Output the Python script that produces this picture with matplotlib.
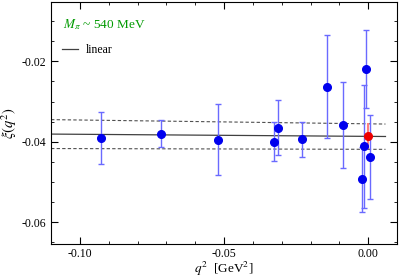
import matplotlib
matplotlib.use("Agg")
import matplotlib.pyplot as plt
from matplotlib.ticker import MultipleLocator

plt.rcParams['font.family'] = ['Liberation Serif', 'DejaVu Serif']
plt.rcParams['mathtext.fontset'] = 'stix'

# =======================
# Daten
# =======================
q2 = [-0.0928, -0.0718, -0.0522, -0.0328, -0.0313, -0.0231,
      -0.0144, -0.0089, -0.0008, -0.0016, -0.0022, 0.0007]
xi = [-0.0390, -0.0380, -0.0395, -0.0400, -0.0365, -0.0394,
      -0.0263, -0.0358, -0.0218, -0.0411, -0.0493, -0.0438]
xi_err = [0.0065, 0.0034, 0.0089, 0.0048, 0.0068, 0.0044,
          0.0128, 0.0107, 0.0097, 0.0153, 0.0081, 0.0105]

# extrapolierter Punkt bei q^2 = 0
q2_0 = [0.0]
xi_0 = [-0.0386]
xi_0_err = [0.0032]

# linearer Fit + Fehlerband
fit_q2 = [-0.11, 0.006]
fit_mid = [-0.0381, -0.0387]
fit_up = [-0.0345, -0.0356]
fit_lo = [-0.0417, -0.0419]

fig = plt.figure(figsize=(3.99, 2.79), dpi=100)
ax = fig.add_axes([0.128, 0.125, 0.867, 0.868])

ax.plot(fit_q2, fit_mid, color='#404040', lw=0.9, label='linear')
ax.plot(fit_q2, fit_up, color='#505050', lw=0.8, ls=(0, (3, 2)))
ax.plot(fit_q2, fit_lo, color='#505050', lw=0.8, ls=(0, (3, 2)))

ax.errorbar(q2, xi, yerr=xi_err, fmt='o', color='#0000ee', ms=5.5,
            ecolor='#6a6aff', elinewidth=1.0, capsize=2.5, capthick=1.0)
ax.errorbar(q2_0, xi_0, yerr=xi_0_err, fmt='o', color='#ee0000', ms=5.5,
            ecolor='#ff8080', elinewidth=1.5, capsize=0)

ax.set_xlim(-0.11, 0.01)
ax.set_ylim(-0.0655, -0.0052)
ax.xaxis.set_major_locator(MultipleLocator(0.05))
ax.xaxis.set_minor_locator(MultipleLocator(0.01))
ax.yaxis.set_major_locator(MultipleLocator(0.02))
ax.yaxis.set_minor_locator(MultipleLocator(0.005))
ax.xaxis.set_major_formatter(plt.FuncFormatter(lambda v, p: f"{v:.2f}"))
ax.yaxis.set_major_formatter(plt.FuncFormatter(lambda v, p: f"{v:.2f}"))
ax.tick_params(which='both', direction='in', top=True, right=True, labelsize=8.5)
ax.tick_params(which='major', length=5)
ax.tick_params(which='minor', length=2.5)
ax.tick_params(axis='x', pad=3)

ax.set_xlabel(r"$q^2$  [GeV$^2$]", fontsize=9.5, labelpad=0)
ax.set_ylabel(r"$\xi(q^2)$", fontsize=10.5, labelpad=2)

ax.text(0.035, 0.89, r"$M_\pi$ ~ 540 MeV", transform=ax.transAxes,
        color='#009a00', fontsize=9.5)
ax.legend(loc='upper left', bbox_to_anchor=(0.0, 0.87), frameon=False,
          fontsize=8.5, handlelength=1.4, handletextpad=0.6)

fig.savefig("out.png", dpi=100)
